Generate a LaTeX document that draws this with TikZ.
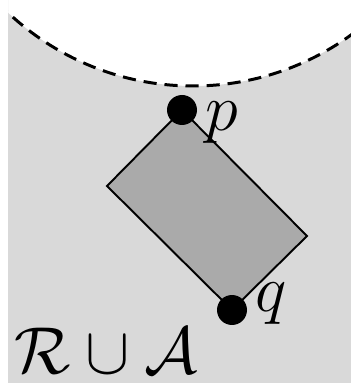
\documentclass[tikz,border=0pt]{standalone}
\usepackage{amsmath,amssymb}
\usepackage{xcolor}
\usepackage{tikz}

\definecolor{regiongray}{RGB}{217,217,217}
\definecolor{boxgray}{RGB}{170,170,170}

\begin{document}
\begin{tikzpicture}[
    x=0.02cm, y=0.02cm,
    boundary/.style={draw=black, line width=1.7pt, dash pattern=on 7.5pt off 4.5pt},
    rectbox/.style={fill=boxgray, draw=black, line width=1.1pt, line join=miter},
    dot/.style={circle, fill=black, inner sep=0pt, minimum size=0.6cm},
    lbl/.style={inner sep=0pt, font=\Huge, scale=1.52, transform shape}
]
\useasboundingbox (0,0) rectangle (351,385);

% region with the disc cut out
\begin{scope}
    \clip (8,2) rectangle (351,385);
    \fill[regiongray, even odd rule] (8,2) rectangle (351,385) (193,569) circle[radius=270];
    \draw[boundary] (193,569) circle[radius=270];
\end{scope}

% corners of the tilted box
\coordinate (ptop) at (182,275);
\coordinate (cleft) at (107,199);
\coordinate (qbot) at (232,75);
\coordinate (cright) at (307,149);

\draw[rectbox] (ptop) -- (cleft) -- (qbot) -- (cright) -- cycle;

\node[dot] (p) at (ptop) {};
\node[dot] (q) at (qbot) {};

\node[lbl, anchor=base west] (plabel) at (205,254) {$p$};
\node[lbl, anchor=base west] (qlabel) at (255,73) {$q$};
\node[lbl, anchor=base west] (region) at (14,12) {$\mathcal{R}\cup\mathcal{A}$};
\end{tikzpicture}
\end{document}
